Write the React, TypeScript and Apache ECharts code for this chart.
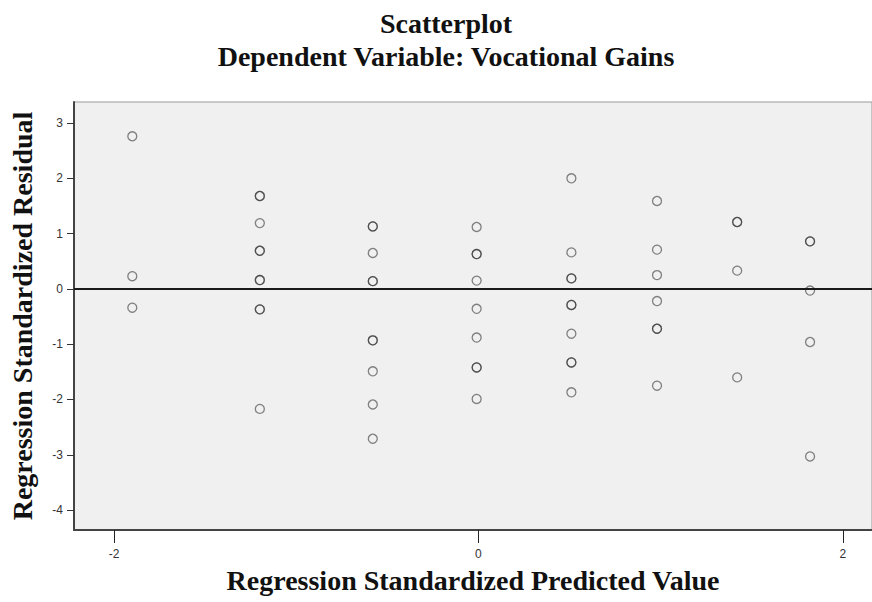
import React, { useEffect, useRef } from "react";
import * as echarts from "echarts";

const predicted: number[] = [
  -1.9, -1.9, -1.9,
  -1.2, -1.2, -1.2, -1.2, -1.2, -1.2, -1.2, -1.2, -1.2, -1.2,
  -0.58, -0.58, -0.58, -0.58, -0.58, -0.58, -0.58, -0.58, -0.58, -0.58,
  -0.01, -0.01, -0.01, -0.01, -0.01, -0.01, -0.01, -0.01, -0.01,
  0.51, 0.51, 0.51, 0.51, 0.51, 0.51, 0.51, 0.51, 0.51, 0.51,
  0.98, 0.98, 0.98, 0.98, 0.98, 0.98, 0.98,
  1.42, 1.42, 1.42, 1.42,
  1.82, 1.82, 1.82, 1.82, 1.82,
];
const residual: number[] = [
  2.76, 0.23, -0.34,
  1.68, 1.68, 1.19, 0.69, 0.69, 0.16, 0.16, -0.37, -0.37, -2.17,
  1.13, 1.13, 0.65, 0.14, 0.14, -0.93, -0.93, -1.49, -2.09, -2.71,
  1.12, 0.63, 0.63, 0.15, -0.36, -0.88, -1.42, -1.42, -1.99,
  2.0, 0.66, 0.19, 0.19, -0.29, -0.29, -0.81, -1.33, -1.33, -1.87,
  1.59, 0.71, 0.25, -0.22, -0.72, -0.72, -1.75,
  1.21, 1.21, 0.33, -1.6,
  0.86, 0.86, -0.03, -0.96, -3.03,
];
const xTicks: number[] = [-2, 0, 2];
const yTicks: number[] = [-4, -3, -2, -1, 0, 1, 2, 3];

const titleMain = "Scatterplot";
const titleSub = "Dependent Variable: Vocational Gains";
const xTitle = "Regression Standardized Predicted Value";
const yTitle = "Regression Standardized Residual";

export default function App() {
  const ref = useRef<HTMLDivElement>(null);
  useEffect(() => {
    document.body.style.margin = "0";
    if (!ref.current) return;
    const chart = echarts.init(ref.current, undefined, { renderer: "svg" });
    const pts = predicted.map((x, i) => [x, residual[i]]);
    const serifBold = { fontFamily: "Liberation Serif", fontWeight: "bold", color: "#111" };
    chart.setOption({
      animation: false,
      backgroundColor: "#ffffff",
      title: [
        {
          text: titleMain,
          left: 441,
          top: 4,
          textAlign: "center",
          textStyle: { ...serifBold, fontSize: 28 },
        },
        {
          text: titleSub,
          left: 441,
          top: 37,
          textAlign: "center",
          textStyle: { ...serifBold, fontSize: 28 },
        },
      ],
      grid: {
        left: 74,
        top: 102,
        right: 0,
        bottom: 72,
        outerBoundsMode: "none",
        containLabel: false,
        show: true,
        backgroundColor: "#f0f0f0",
        borderColor: "#9a9a9a",
        borderWidth: 1,
      },
      xAxis: {
        type: "value",
        min: -2.22,
        max: 2.16,
        interval: 2,
        name: xTitle,
        nameLocation: "middle",
        nameGap: 36,
        nameTextStyle: { ...serifBold, fontSize: 28 },
        splitLine: { show: false },
        axisLine: { show: true, onZero: false, lineStyle: { color: "#444", width: 2 } },
        axisTick: { show: true, length: 13, lineStyle: { color: "#222", width: 1 }, customValues: xTicks },
        axisLabel: {
          fontFamily: "Liberation Sans",
          fontSize: 12,
          color: "#333",
          margin: 18,
          customValues: xTicks,
          formatter: (v: number) => String(v),
        },
      },
      yAxis: {
        type: "value",
        min: -4.36,
        max: 3.38,
        name: yTitle,
        nameLocation: "middle",
        nameGap: 38,
        nameTextStyle: { ...serifBold, fontSize: 28 },
        splitLine: { show: false },
        axisLine: { show: true, onZero: false, lineStyle: { color: "#444", width: 2 } },
        axisTick: { show: true, length: 7, lineStyle: { color: "#333", width: 1 }, customValues: yTicks },
        axisLabel: {
          fontFamily: "Liberation Sans",
          fontSize: 12,
          color: "#333",
          margin: 11,
          customValues: yTicks,
          formatter: (v: number) => String(v),
        },
      },
      series: [
        {
          type: "scatter",
          data: pts,
          symbol: "circle",
          symbolSize: 9,
          itemStyle: { color: "rgba(0,0,0,0)", borderColor: "rgba(40,40,40,0.7)", borderWidth: 1.3 },
          markLine: {
            silent: true,
            symbol: "none",
            label: { show: false },
            lineStyle: { color: "#1a1a1a", width: 2, type: "solid" },
            data: [{ yAxis: 0 }],
          },
        },
      ],
    });
    return () => chart.dispose();
  }, []);
  return <div ref={ref} style={{ width: 872, height: 602 }} />;
}
